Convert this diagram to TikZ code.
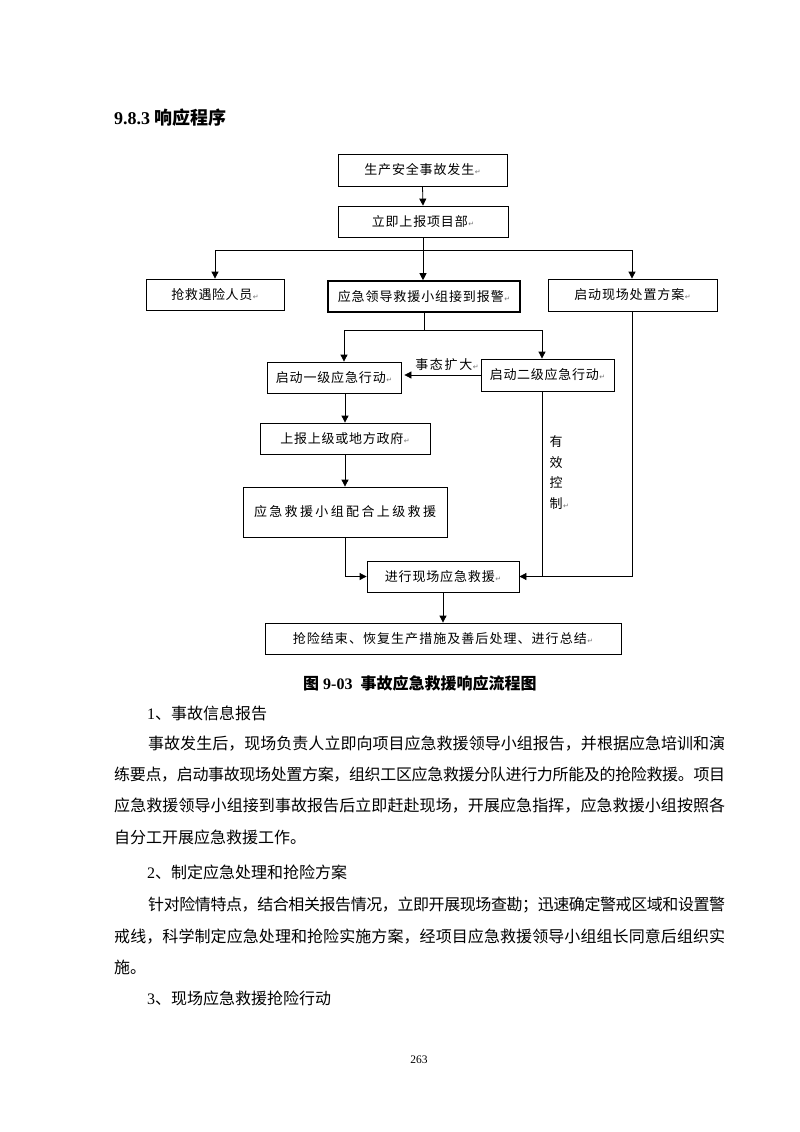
\documentclass[tikz,border=0pt]{standalone}
\usepackage{fontspec}
\setmainfont{Liberation Serif}
\newfontfamily\cjk{Noto Sans CJK SC}
\newfontfamily\symf{DejaVu Sans}
\usetikzlibrary{arrows.meta}
% inter-character glue between CJK characters, so that a line can be spread to a width
\newXeTeXintercharclass\cjkcls
\newcount\cjkcc
\cjkcc="3000 \loop \XeTeXcharclass\cjkcc=\cjkcls \advance\cjkcc by 1 \ifnum\cjkcc<"3040 \repeat
\cjkcc="4E00 \loop \XeTeXcharclass\cjkcc=\cjkcls \advance\cjkcc by 1 \ifnum\cjkcc<"A000 \repeat
\cjkcc="FF00 \loop \XeTeXcharclass\cjkcc=\cjkcls \advance\cjkcc by 1 \ifnum\cjkcc<"FF60 \repeat
\XeTeXinterchartoks\cjkcls\cjkcls={\hskip 0pt plus 1fil minus 0.6pt\relax}
\XeTeXinterchartokenstate=1
\newcommand\retm{\kern0.5pt{\symf\fontsize{7}{7}\selectfont\color{black!55}↵}}
\newcommand\fitw[2]{\hbox to #1{#2}}
\newcommand\flowf{\cjk\fontsize{13}{15}\selectfont}
\newcommand\bodyf{\cjk\fontsize{16}{20}\selectfont}
\begin{document}
\begin{tikzpicture}[x=1pt,y=-1pt,
  box/.style={draw=black, line width=0.8pt, inner sep=0pt, font=\flowf},
  arr/.style={-{Triangle[length=7pt,width=7pt]}, line width=0.8pt},
  ln/.style={line width=0.8pt},
  body/.style={anchor=west, inner sep=0pt, font=\bodyf}]
\useasboundingbox (0,0) rectangle (800,1132);
% title
\node[anchor=west, inner sep=0pt, font=\bfseries\fontsize{18}{20}\selectfont] (title) at (114,118) {9.8.3 {\cjk 响应程序}};
% flowchart boxes
\node[box, minimum width=169, minimum height=32] (b1) at (422.5,170) {\fitw{110pt}{生产安全事故发生}\retm};
\node[box, minimum width=170, minimum height=31] (b2) at (423,221.5) {\fitw{96pt}{立即上报项目部}\retm};
\node[box, minimum width=138, minimum height=31] (b3) at (215,294.5) {\fitw{81pt}{抢救遇险人员}\retm};
\node[box, line width=1.6pt, minimum width=192, minimum height=31] (b4) at (424,296.5) {\fitw{166pt}{应急领导救援小组接到报警}\retm};
\node[box, minimum width=169, minimum height=32] (b5) at (632.5,295) {\fitw{110pt}{启动现场处置方案}\retm};
\node[box, minimum width=134, minimum height=31] (b6) at (334,377.5) {\fitw{110pt}{启动一级应急行动}\retm};
\node[box, minimum width=133, minimum height=32] (b7) at (547.5,375) {\fitw{109pt}{启动二级应急行动}\retm};
\node[inner sep=0pt, font=\flowf] (lbl) at (447,365) {\fitw{57pt}{事态扩大}\retm};
\node[box, minimum width=170, minimum height=31] (b8) at (345,438.5) {\fitw{123pt}{上报上级或地方政府}\retm};
\node[box, minimum width=204, minimum height=50] (b9) at (345,512) {\fitw{182pt}{应急救援小组配合上级救援}};
\node[box, minimum width=152, minimum height=31] (b10) at (443,576.5) {\fitw{110pt}{进行现场应急救援}\retm};
\node[box, minimum width=356, minimum height=31] (b11) at (443,638.5) {\fitw{294pt}{抢险结束、恢复生产措施及善后处理、进行总结}\retm};
\node[inner sep=0pt, align=center, font=\cjk\fontsize{13}{20.5}\selectfont] (ctl) at (556,472.5) {有\\效\\控\\制\rlap{\retm}};
% junction coordinates
\coordinate (h1) at (215,250);
\coordinate (h3) at (632,250);
\coordinate (v1) at (344,330);
\coordinate (v2) at (542,330);
% connectors
\draw[arr] (b1.south) -- (b2.north);
\draw[ln] (h1) -- (h3);
\draw[arr] (b2.south) -- (b2.south |- b4.north);
\draw[arr] (h1) -- (h1 |- b3.north);
\draw[arr] (h3) -- (h3 |- b5.north);
\draw[ln] (b4.south) -- (b4.south |- v1);
\draw[ln] (v1) -- (v2);
\draw[arr] (v1) -- (v1 |- b6.north);
\draw[arr] (v2) -- (v2 |- b7.north);
\draw[arr, shorten >=3pt] (b7.west) -- (b7.west -| b6.east);
\draw[arr] (b8.north |- b6.south) -- (b8.north);
\draw[arr] (b8.south) -- (b9.north);
\draw[arr] (b9.south) |- (b10.west);
\draw[arr] (h3 |- b5.south) |- (b10.east);
\draw[ln] (v2 |- b7.south) -- (v2 |- b10.east);
\draw[arr] (b10.south) -- (b11.north);
% caption
\node[anchor=west, inner sep=0pt, font=\bfseries\fontsize{16}{20}\selectfont] (cap) at (303,683) {{\cjk 图} 9-03\hspace{8pt}{\cjk 事故应急救援响应流程图}};
% body text
\node[body] (t1) at (147,713) {{\rmfamily 1}、事故信息报告};
\node[body] (p1a) at (148,744) {\fitw{577pt}{事故发生后，现场负责人立即向项目应急救援领导小组报告，并根据应急培训和演}};
\node[body] (p1b) at (114,775) {\fitw{611pt}{练要点，启动事故现场处置方案，组织工区应急救援分队进行力所能及的抢险救援。项目}};
\node[body] (p1c) at (114,806) {\fitw{611pt}{应急救援领导小组接到事故报告后立即赶赴现场，开展应急指挥，应急救援小组按照各}};
\node[body] (p1d) at (114,837) {自分工开展应急救援工作。};
\node[body] (t2) at (147,872) {{\rmfamily 2}、制定应急处理和抢险方案};
\node[body] (p2a) at (148,905) {\fitw{577pt}{针对险情特点，结合相关报告情况，立即开展现场查勘；迅速确定警戒区域和设置警}};
\node[body] (p2b) at (114,937) {\fitw{611pt}{戒线，科学制定应急处理和抢险实施方案，经项目应急救援领导小组组长同意后组织实}};
\node[body] (p2c) at (114,967) {施。};
\node[body] (t3) at (147,998) {{\rmfamily 3}、现场应急救援抢险行动};
\node[inner sep=0pt, font=\fontsize{11.5}{13}\selectfont] (pg) at (419,1060) {263};
\end{tikzpicture}
\end{document}
